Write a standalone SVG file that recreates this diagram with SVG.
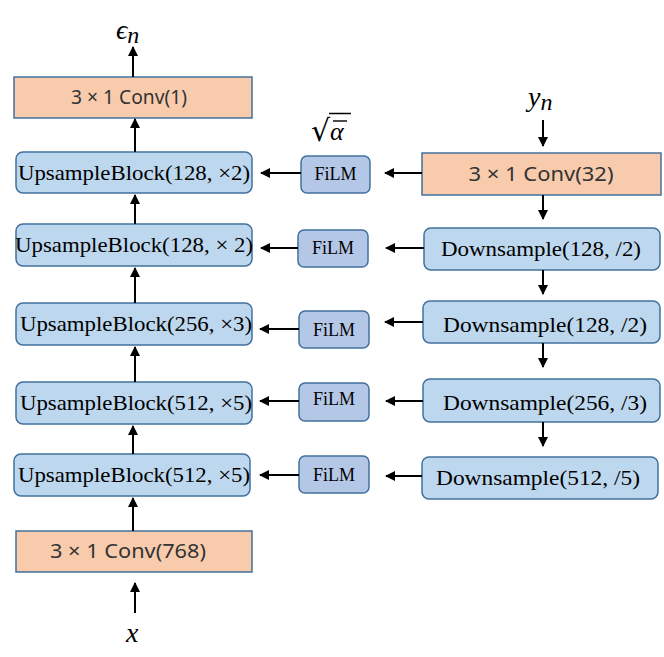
<svg xmlns="http://www.w3.org/2000/svg" width="664" height="657" viewBox="0 0 664 657">
<defs>
<marker id="ah" markerWidth="10" markerHeight="10" refX="9" refY="5" orient="auto" markerUnits="userSpaceOnUse">
<path d="M0,0 L10,5 L0,10 Z" fill="#000"/>
</marker>
<style>
.blk{fill:#BDD7EE;stroke:#41719C;stroke-width:1.5}
.film{fill:#B4C7E7;stroke:#41719C;stroke-width:1.5}
.conv{fill:#F8CBAD;stroke:#41719C;stroke-width:1.5}
.serif{font-family:"Liberation Serif","Times New Roman",serif;fill:#000}
.big{font-size:21px}
.sm{font-size:18px}
.sans{font-family:"Noto Sans","Liberation Sans",sans-serif;font-size:19px;fill:#333}
.math{font-family:"Liberation Serif",serif;font-style:italic;fill:#000}
.c line{stroke:#000;stroke-width:2}
</style>
</defs>
<rect width="664" height="657" fill="#fff"/>

<g id="conv1"><rect class="conv" x="14" y="77" width="238" height="41"/><text class="sans" x="129" y="104" text-anchor="middle" textLength="116" lengthAdjust="spacingAndGlyphs">3 × 1 Conv(1)</text></g>
<g id="up1"><rect class="blk" x="16" y="152" width="236" height="41" rx="7"/><text class="serif big" x="134" y="180" text-anchor="middle" textLength="232" lengthAdjust="spacingAndGlyphs">UpsampleBlock(128, ×2)</text></g>
<g id="up2"><rect class="blk" x="16" y="224" width="236" height="42" rx="7"/><text class="serif big" x="134" y="252" text-anchor="middle" textLength="238" lengthAdjust="spacingAndGlyphs">UpsampleBlock(128, × 2)</text></g>
<g id="up3"><rect class="blk" x="16" y="303" width="236" height="42" rx="7"/><text class="serif big" x="136" y="331" text-anchor="middle" textLength="232" lengthAdjust="spacingAndGlyphs">UpsampleBlock(256, ×3)</text></g>
<g id="up4"><rect class="blk" x="16" y="382" width="236" height="42" rx="7"/><text class="serif big" x="136" y="410" text-anchor="middle" textLength="232" lengthAdjust="spacingAndGlyphs">UpsampleBlock(512, ×5)</text></g>
<g id="up5"><rect class="blk" x="14" y="454" width="236" height="42" rx="7"/><text class="serif big" x="134" y="482" text-anchor="middle" textLength="232" lengthAdjust="spacingAndGlyphs">UpsampleBlock(512, ×5)</text></g>
<g id="conv768"><rect class="conv" x="16" y="531" width="236" height="41"/><text class="sans" x="128" y="558" text-anchor="middle" textLength="156" lengthAdjust="spacingAndGlyphs">3 × 1 Conv(768)</text></g>

<g id="film1"><rect class="film" x="301" y="156" width="69" height="37" rx="6"/><text class="serif sm" x="335.5" y="180" text-anchor="middle">FiLM</text></g>
<g id="film2"><rect class="film" x="298" y="230" width="70" height="37" rx="6"/><text class="serif sm" x="333" y="254" text-anchor="middle">FiLM</text></g>
<g id="film3"><rect class="film" x="299" y="311" width="70" height="37" rx="6"/><text class="serif sm" x="334" y="336" text-anchor="middle">FiLM</text></g>
<g id="film4"><rect class="film" x="299" y="383" width="70" height="38" rx="6"/><text class="serif sm" x="334" y="405" text-anchor="middle">FiLM</text></g>
<g id="film5"><rect class="film" x="299" y="456" width="70" height="37" rx="6"/><text class="serif sm" x="334" y="481" text-anchor="middle">FiLM</text></g>

<g id="conv32"><rect class="conv" x="422" y="153" width="239" height="42"/><text class="sans" x="541" y="181" text-anchor="middle" textLength="145" lengthAdjust="spacingAndGlyphs">3 × 1 Conv(32)</text></g>
<g id="down1"><rect class="blk" x="424" y="228" width="236" height="42" rx="7"/><text class="serif big" x="541" y="256" text-anchor="middle" textLength="200" lengthAdjust="spacingAndGlyphs">Downsample(128, /2)</text></g>
<g id="down2"><rect class="blk" x="423" y="301" width="237" height="42" rx="7"/><text class="serif big" x="545" y="332" text-anchor="middle" textLength="204" lengthAdjust="spacingAndGlyphs">Downsample(128, /2)</text></g>
<g id="down3"><rect class="blk" x="423" y="379" width="237" height="43" rx="7"/><text class="serif big" x="545" y="410" text-anchor="middle" textLength="204" lengthAdjust="spacingAndGlyphs">Downsample(256, /3)</text></g>
<g id="down4"><rect class="blk" x="422" y="457" width="236" height="42" rx="7"/><text class="serif big" x="538" y="485" text-anchor="middle" textLength="204" lengthAdjust="spacingAndGlyphs">Downsample(512, /5)</text></g>

<g id="labels">
<text class="math" x="116" y="39" font-size="28">ϵ<tspan font-size="24" dy="4">n</tspan></text>
<text class="math" x="126" y="642" font-size="28">x</text>
<text class="math" x="528" y="106" font-size="28">y<tspan font-size="24" dy="4">n</tspan></text>
<g id="sqrtalpha">
<text x="311" y="141" font-family="DejaVu Sans,sans-serif" font-size="30" fill="#000">√</text>
<line x1="329" y1="113.5" x2="351" y2="113.5" stroke="#000" stroke-width="1.5"/>
<line x1="333" y1="121" x2="347" y2="121" stroke="#000" stroke-width="1.4"/>
<text class="math" x="330" y="140" font-size="26">α</text>
</g>
</g>

<g id="connectors" class="c">
<line x1="133" y1="77" x2="133" y2="47" marker-end="url(#ah)"/>
<line x1="135" y1="152" x2="135" y2="119" marker-end="url(#ah)"/>
<line x1="135" y1="224" x2="135" y2="195" marker-end="url(#ah)"/>
<line x1="135" y1="303" x2="135" y2="268" marker-end="url(#ah)"/>
<line x1="135" y1="382" x2="135" y2="347" marker-end="url(#ah)"/>
<line x1="133" y1="454" x2="133" y2="426" marker-end="url(#ah)"/>
<line x1="133" y1="531" x2="133" y2="498" marker-end="url(#ah)"/>
<line x1="135" y1="613" x2="135" y2="583" marker-end="url(#ah)"/>

<line x1="301" y1="173" x2="261" y2="173" marker-end="url(#ah)"/>
<line x1="298" y1="248" x2="261" y2="248" marker-end="url(#ah)"/>
<line x1="299" y1="329" x2="260" y2="329" marker-end="url(#ah)"/>
<line x1="299" y1="401" x2="260" y2="401" marker-end="url(#ah)"/>
<line x1="299" y1="475" x2="260" y2="475" marker-end="url(#ah)"/>

<line x1="422" y1="173" x2="385" y2="173" marker-end="url(#ah)"/>
<line x1="424" y1="248" x2="386" y2="248" marker-end="url(#ah)"/>
<line x1="423" y1="322" x2="385" y2="322" marker-end="url(#ah)"/>
<line x1="423" y1="401" x2="386" y2="401" marker-end="url(#ah)"/>
<line x1="422" y1="476" x2="386" y2="476" marker-end="url(#ah)"/>

<line x1="543" y1="120" x2="543" y2="146" marker-end="url(#ah)" stroke-width="1.5"/>
<line x1="543" y1="195" x2="543" y2="219" marker-end="url(#ah)" stroke-width="1.5"/>
<line x1="543" y1="270" x2="543" y2="294" marker-end="url(#ah)" stroke-width="1.5"/>
<line x1="543" y1="343" x2="543" y2="367" marker-end="url(#ah)" stroke-width="1.5"/>
<line x1="543" y1="422" x2="543" y2="446" marker-end="url(#ah)" stroke-width="1.5"/>
</g>
</svg>
